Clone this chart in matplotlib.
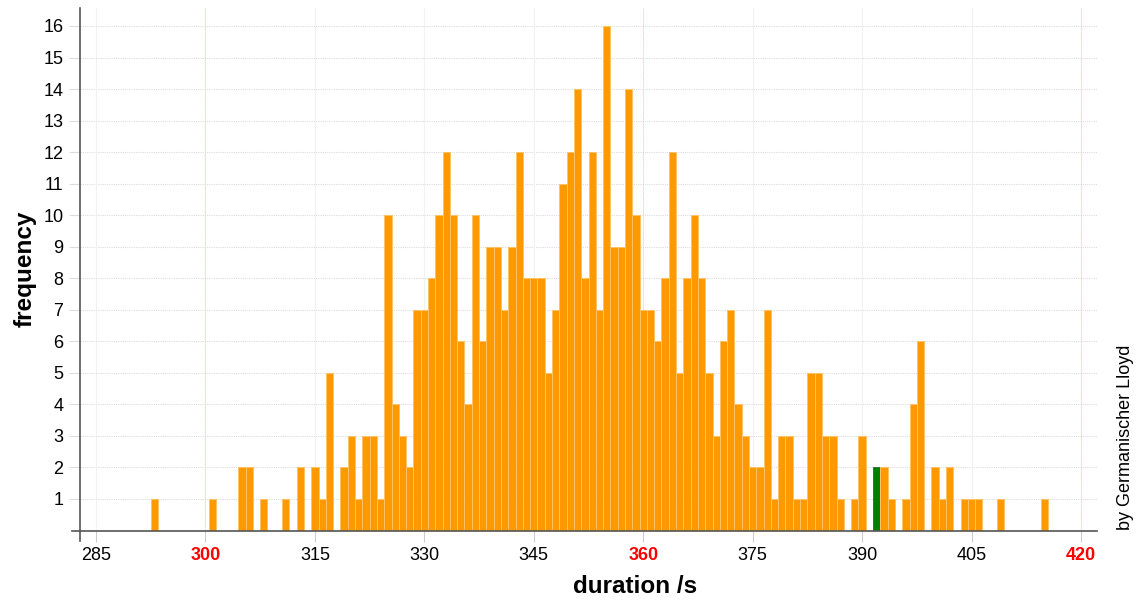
import numpy as np
import matplotlib.pyplot as plt

plt.rcParams['font.family'] = ['Liberation Sans', 'DejaVu Sans']

# durations in seconds and how often they occurred
durations = list(range(293, 416))
counts = [
    1, 0, 0, 0, 0, 0, 0, 0, 1, 0, 0, 0,          # 293-304
    2, 2, 0, 1, 0, 0, 1, 0, 2, 0, 2, 1,          # 305-316
    5, 0, 2, 3, 1, 3, 3, 1, 10, 4, 3, 2,         # 317-328
    7, 7, 8, 10, 12, 10, 6, 4, 10, 6, 9, 9,      # 329-340
    7, 9, 12, 8, 8, 8, 5, 7, 11, 12, 14, 8,      # 341-352
    12, 7, 16, 9, 9, 14, 10, 7, 7, 6, 8, 12,     # 353-364
    5, 8, 10, 8, 5, 3, 6, 7, 4, 3, 2, 2,         # 365-376
    7, 1, 3, 3, 1, 1, 5, 5, 3, 3, 1, 0,          # 377-388
    1, 3, 0, 2, 2, 1, 0, 1, 4, 6, 0, 2,          # 389-400
    1, 2, 0, 1, 1, 1, 0, 0, 1, 0, 0, 0,          # 401-412
    0, 0, 1,                                     # 413-415
]
highlight = 392          # the run drawn in green
xticks = list(range(285, 421, 15))
red_ticks = [300, 360, 420]
yticks = list(range(1, 17))

fig = plt.figure(figsize=(11.36, 6.01), dpi=100)
ax = fig.add_axes([80/1136, 1 - 530.5/601, 1017/1136, 522.5/601])

colors = ['#008000' if d == highlight else '#ff9900' for d in durations]
edges = ['#2f7a2f' if d == highlight else '#ffc266' for d in durations]
ax.bar(durations, counts, width=1.0, color=colors, edgecolor=edges, linewidth=0.7, zorder=3)

ax.set_xlim(282.8, 422.2)
ax.set_ylim(0, 16.57)

# grid: light grey, red-ish lines every minute
for y in yticks:
    ax.axhline(y, color='#dddddd', lw=0.8, ls=(0, (1, 1)), zorder=1)
for x in xticks:
    c = '#ffcccc' if x in red_ticks else '#ececec'
    ax.axvline(x, color=c, lw=0.8, ls=(0, (1, 0.5)), zorder=1)

for s in ax.spines.values():
    s.set_visible(False)
# axis lines, running a little past the corner
ax.plot([-0.008, 1.0], [0, 0], transform=ax.transAxes, color='#555555', lw=1.2, clip_on=False, zorder=4)
ax.plot([0, 0], [-0.02, 1.0], transform=ax.transAxes, color='#555555', lw=1.2, clip_on=False, zorder=4)

ax.set_xticks(xticks)
ax.set_yticks(yticks)
ax.tick_params(axis='x', length=8, color='#cccccc', labelsize=13, pad=4)
ax.tick_params(axis='y', length=8, color='#dddddd', labelsize=13, pad=4)
for lab in ax.get_xticklabels():
    if int(lab.get_text()) in red_ticks:
        lab.set_color('red')
        lab.set_fontweight('bold')

ax.set_xlabel('duration /s', fontsize=17.5, fontweight='bold', labelpad=11)
ax.xaxis.set_label_coords(0.546, -0.085)
ax.set_ylabel('frequency', fontsize=17.5, fontweight='bold')
ax.yaxis.set_label_coords(-0.043, 0.5)

fig.text(1125/1136, 1 - 530/601, 'by Germanischer Lloyd', rotation=90,
         ha='center', va='bottom', fontsize=13)

plt.savefig('out.png', dpi=100)
plt.close()
